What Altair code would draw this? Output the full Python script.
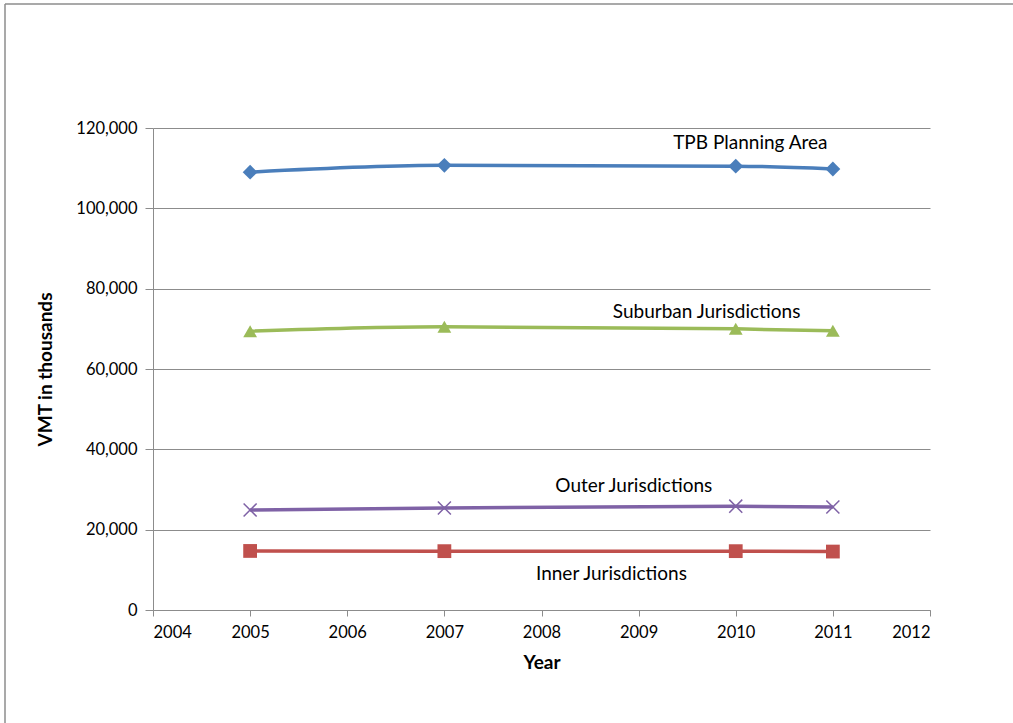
import altair as alt
import pandas as pd

# Vehicle miles travelled (thousands) by jurisdiction group
years = [2005, 2007, 2010, 2011]
tpb_planning_area = [109000, 110700, 110500, 109800]
suburban = [69400, 70500, 70000, 69500]
outer = [24900, 25400, 25850, 25650]
inner = [14700, 14650, 14650, 14550]

series_names = ["TPB Planning Area", "Suburban Jurisdictions",
                "Outer Jurisdictions", "Inner Jurisdictions"]
series_values = [tpb_planning_area, suburban, outer, inner]
series_colors = ["#4A7EBB", "#9BBB59", "#7F62A6", "#C0504D"]

# Series label positions (year, value)
label_x = [2010.15, 2009.7, 2008.95, 2008.72]
label_y = [116300, 74200, 30900, 9000]

FONT = "Lato"

rows = []
for name, vals in zip(series_names, series_values):
    for yr, v in zip(years, vals):
        rows.append({"Year": yr, "VMT": v, "Series": name})
df = pd.DataFrame(rows)

labels = pd.DataFrame({"Series": series_names, "x": label_x, "y": label_y})

x_scale = alt.Scale(domain=[2004, 2012], nice=False, zero=False)
y_scale = alt.Scale(domain=[0, 120000], nice=False)
color_scale = alt.Scale(domain=series_names, range=series_colors)

base = alt.Chart(df)

lines = base.mark_line(interpolate="monotone", strokeWidth=3.5).encode(
    x=alt.X("Year:Q", scale=x_scale,
            axis=alt.Axis(values=list(range(2004, 2013)), format="d",
                          title="Year", grid=False, domainColor="#8C8C8C",
                          tickColor="#8C8C8C", tickSize=6, labelPadding=8,
                          labelFontSize=16.5, labelColor="#000000", labelFont=FONT,
                          titleFont=FONT, titleFontSize=19, titleFontWeight="bold",
                          titleColor="#000000", titlePadding=13)),
    y=alt.Y("VMT:Q", scale=y_scale,
            axis=alt.Axis(values=list(range(0, 120001, 20000)), format=",d",
                          title="VMT in thousands", grid=True, gridColor="#8C8C8C",
                          gridWidth=1, domainColor="#8C8C8C", tickColor="#8C8C8C",
                          tickSize=8, labelPadding=8, labelFontSize=16.5,
                          labelColor="#000000", labelFont=FONT, titleFont=FONT,
                          titleFontSize=19, titleFontWeight="bold",
                          titleColor="#000000", titlePadding=20)),
    color=alt.Color("Series:N", scale=color_scale, legend=None),
    detail="Series:N",
)

def markers(name, shape, size, filled=True):
    sub = base.transform_filter(alt.datum.Series == name)
    if filled:
        m = sub.mark_point(shape=shape, size=size, filled=True, opacity=1)
    else:
        m = sub.mark_point(shape=shape, size=size, filled=False, opacity=1,
                           strokeWidth=1.5)
    return m.encode(
        x=alt.X("Year:Q", scale=x_scale),
        y=alt.Y("VMT:Q", scale=y_scale),
        color=alt.Color("Series:N", scale=color_scale, legend=None),
    )

pts = (markers("TPB Planning Area", "diamond", 220)
       + markers("Suburban Jurisdictions", "triangle-up", 190)
       + markers("Outer Jurisdictions", "M-1,-1L1,1M-1,1L1,-1", 170, filled=False)
       + markers("Inner Jurisdictions", "square", 190))

text = alt.Chart(labels).mark_text(font=FONT, fontSize=19, color="#000000").encode(
    x=alt.X("x:Q", scale=x_scale),
    y=alt.Y("y:Q", scale=y_scale),
    text="Series:N",
)

# Outer chart frame
frame_data = pd.DataFrame({"k": [0]})
frame_top = alt.Chart(frame_data).mark_rule(color="#8C8C8C", strokeWidth=1.5).encode(
    x=alt.value(-148), x2=alt.value(900), y=alt.value(-124))
frame_left = alt.Chart(frame_data).mark_rule(color="#8C8C8C", strokeWidth=1.5).encode(
    x=alt.value(-148), y=alt.value(-124), y2=alt.value(700))

chart = (frame_top + frame_left + lines + pts + text).properties(
    width=777, height=482,
    padding={"left": 153, "top": 128, "right": 83, "bottom": 113},
    autosize=alt.AutoSizeParams(type="none"),
    background="#FFFFFF",
).configure_view(stroke=None)

chart.save("out.html", embed_options={"renderer": "svg", "actions": False})
